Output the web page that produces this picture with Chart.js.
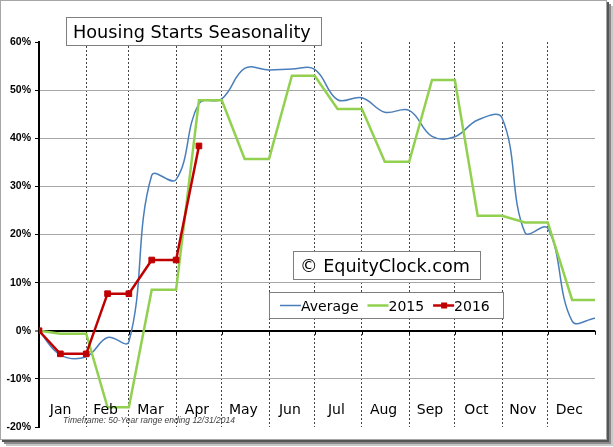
<!DOCTYPE html>
<html>
<head>
<meta charset="utf-8">
<script src="https://cdn.jsdelivr.net/npm/chart.js@4.4.1/dist/chart.umd.min.js"></script>
<style>
  html, body { margin: 0; padding: 0; background: #fff; }
  #frame {
    position: absolute; left: 0; top: 0; width: 605px; height: 438px;
    border: 1px solid #a6a6a6;
    box-shadow: 2px 2px 0 #555, 4px 4px 0 #8a8a8a, 6px 6px 0 #c8c8c8;
  }
  #wrap { position: absolute; left: 0; top: 0; width: 607px; height: 440px; }
</style>
</head>
<body>
<div id="frame"></div>
<div id="wrap"><canvas id="housingChart"></canvas></div>
<script>
// months (day of year where each month ends)
const monthNames = ["Jan", "Feb", "Mar", "Apr", "May", "Jun", "Jul", "Aug", "Sep", "Oct", "Nov", "Dec"];
const monthEdges = [0, 31, 59, 90, 120, 151, 181, 212, 243, 273, 304, 334, 365];

// Average (50 years) - mid month / month end
const avgDays = [0, 14, 31, 45, 59, 74, 90, 105, 120, 135, 151, 166, 181, 196, 212, 227, 243, 258, 273, 288, 304, 319, 334, 350, 365];
const avgValues = [0, -5.0, -5.4, -1.4, -2.3, 32.3, 31.4, 47.2, 48.2, 54.5, 54.2, 54.4, 54.3, 48.0, 48.4, 45.4, 45.8, 40.4, 40.3, 43.8, 44.2, 20.4, 21.3, 2.0, 2.6];

// 2015
const days2015 = [0, 14, 31, 45, 59, 74, 90, 105, 120, 135, 151, 166, 181, 196, 212, 227, 243, 258, 273, 288, 304, 319, 334, 350, 365];
const values2015 = [0, -0.6, -0.6, -15.9, -15.9, 8.5, 8.5, 47.9, 47.9, 35.7, 35.7, 53.0, 53.0, 46.1, 46.1, 35.1, 35.1, 52.1, 52.1, 23.9, 23.9, 22.5, 22.5, 6.4, 6.4];

// 2016
const days2016 = [0, 14, 31, 45, 59, 74, 90, 105];
const values2016 = [0, -4.8, -4.8, 7.7, 7.7, 14.7, 14.7, 38.4];

const yTicks = [-20, -10, 0, 10, 20, 30, 40, 50, 60];

function toPoints(days, values) {
  return days.map((d, i) => ({ x: d, y: values[i] }));
}

// 枠付きの白い箱
function drawBox(ctx, x, y, w, h) {
  ctx.fillStyle = "#fff";
  ctx.fillRect(x, y, w, h);
  ctx.strokeStyle = "#7f7f7f";
  ctx.lineWidth = 1;
  ctx.strokeRect(x + 0.5, y + 0.5, w, h);
}

const overlayPlugin = {
  id: "overlay",
  beforeDatasetsDraw(chart) {
    const ctx = chart.ctx;
    const xs = chart.scales.x;
    const y0 = chart.scales.y.getPixelForValue(0);
    ctx.save();
    ctx.strokeStyle = "#000";
    ctx.lineWidth = 1;
    monthEdges.forEach((d) => {
      const px = Math.round(xs.getPixelForValue(d)) + 0.5;
      ctx.beginPath();
      ctx.moveTo(px, y0);
      ctx.lineTo(px, y0 + 4);
      ctx.stroke();
    });
    ctx.restore();
  },
  afterDraw(chart) {
    const ctx = chart.ctx;
    const xs = chart.scales.x;
    ctx.save();

    // month labels
    ctx.fillStyle = "#000";
    ctx.font = "14px 'DejaVu Sans'";
    ctx.textAlign = "center";
    ctx.textBaseline = "alphabetic";
    monthNames.forEach((m, i) => {
      const mid = (monthEdges[i] + monthEdges[i + 1]) / 2;
      ctx.fillText(m, xs.getPixelForValue(mid) - 2, 414);
    });

    // timeframe note
    ctx.textAlign = "left";
    ctx.fillStyle = "#404040";
    ctx.font = "italic 8.5px 'Liberation Sans'";
    ctx.fillText("Timeframe: 50-Year range ending 12/31/2014", 63, 423);

    // title
    drawBox(ctx, 66, 17, 255, 28);
    ctx.fillStyle = "#000";
    ctx.font = "17.7px 'DejaVu Sans'";
    ctx.fillText("Housing Starts Seasonality", 73, 38);

    // watermark
    drawBox(ctx, 293, 251, 187, 28);
    ctx.fillStyle = "#000";
    ctx.font = "17.6px 'DejaVu Sans'";
    ctx.fillText("\u00a9 EquityClock.com", 300, 272);

    // legend
    drawBox(ctx, 269, 292, 234, 26);
    ctx.font = "14px 'DejaVu Sans'";
    let lx = 280;
    const ly = 305.5;
    chart.data.datasets.forEach((ds) => {
      ctx.strokeStyle = ds.borderColor;
      ctx.lineWidth = ds.borderWidth;
      ctx.beginPath();
      ctx.moveTo(lx, ly);
      ctx.lineTo(lx + 21, ly);
      ctx.stroke();
      if (ds.pointRadius > 0) {
        ctx.fillStyle = ds.borderColor;
        ctx.fillRect(lx + 8, ly - 3, 6, 6);
      }
      lx += 21;
      ctx.fillStyle = "#000";
      ctx.fillText(ds.label, lx, 310.5);
      lx += ctx.measureText(ds.label).width + 9;
    });

    ctx.restore();
  },
};

const chartConfig = {
  type: "line",
  data: {
    datasets: [
      {
        label: "Average",
        data: toPoints(avgDays, avgValues),
        borderColor: "#4a7ebb",
        borderWidth: 1.5,
        pointRadius: 0,
        tension: 0.4,
        order: 3,
      },
      {
        label: "2015",
        data: toPoints(days2015, values2015),
        borderColor: "#92d050",
        borderWidth: 2.5,
        pointRadius: 0,
        tension: 0,
        order: 2,
      },
      {
        label: "2016",
        data: toPoints(days2016, values2016),
        borderColor: "#c00000",
        backgroundColor: "#c00000",
        borderWidth: 2.5,
        pointStyle: "rect",
        pointRadius: 4,
        pointBorderWidth: 1,
        tension: 0,
        order: 1,
      },
    ],
  },
  options: {
    animation: false,
    responsive: true,
    maintainAspectRatio: false,
    layout: {
      padding: { top: 42, right: 12, bottom: 13, left: 0 },
    },
    plugins: {
      legend: { display: false },
      tooltip: { enabled: false },
    },
    scales: {
      x: {
        type: "linear",
        min: 0,
        max: 365,
        afterBuildTicks: (scale) => {
          scale.ticks = monthEdges.map((v) => ({ value: v }));
        },
        afterFit: (scale) => {
          scale.height = 0;
        },
        ticks: { display: false },
        grid: {
          drawTicks: false,
          color: (c) => (c.tick && (c.tick.value === 0 || c.tick.value === 365) ? "rgba(0,0,0,0)" : "#444"),
          lineWidth: 1,
        },
        border: { display: false, dash: [2, 2] },
      },
      y: {
        min: -20,
        max: 60,
        afterBuildTicks: (scale) => {
          scale.ticks = yTicks.map((v) => ({ value: v }));
        },
        afterFit: (scale) => {
          scale.width = 39;
        },
        ticks: {
          color: "#000",
          padding: 4,
          font: { family: "'Liberation Sans'", size: 10.5, weight: "bold" },
          callback: (v) => v + "%",
        },
        grid: {
          color: (c) => {
            const v = c.tick ? c.tick.value : null;
            if (v === 0) return "#000";
            if (v === -20 || v === 60) return "rgba(0,0,0,0)";
            return "#a8a8a8";
          },
          lineWidth: (c) => (c.tick && c.tick.value === 0 ? 2 : 1),
          tickColor: "#000",
          tickWidth: 1,
          tickLength: 4,
        },
        border: { display: true, color: "#000", width: 2 },
      },
    },
  },
  plugins: [overlayPlugin],
};

const housingChart = new Chart(document.getElementById("housingChart"), chartConfig);
</script>
</body>
</html>
